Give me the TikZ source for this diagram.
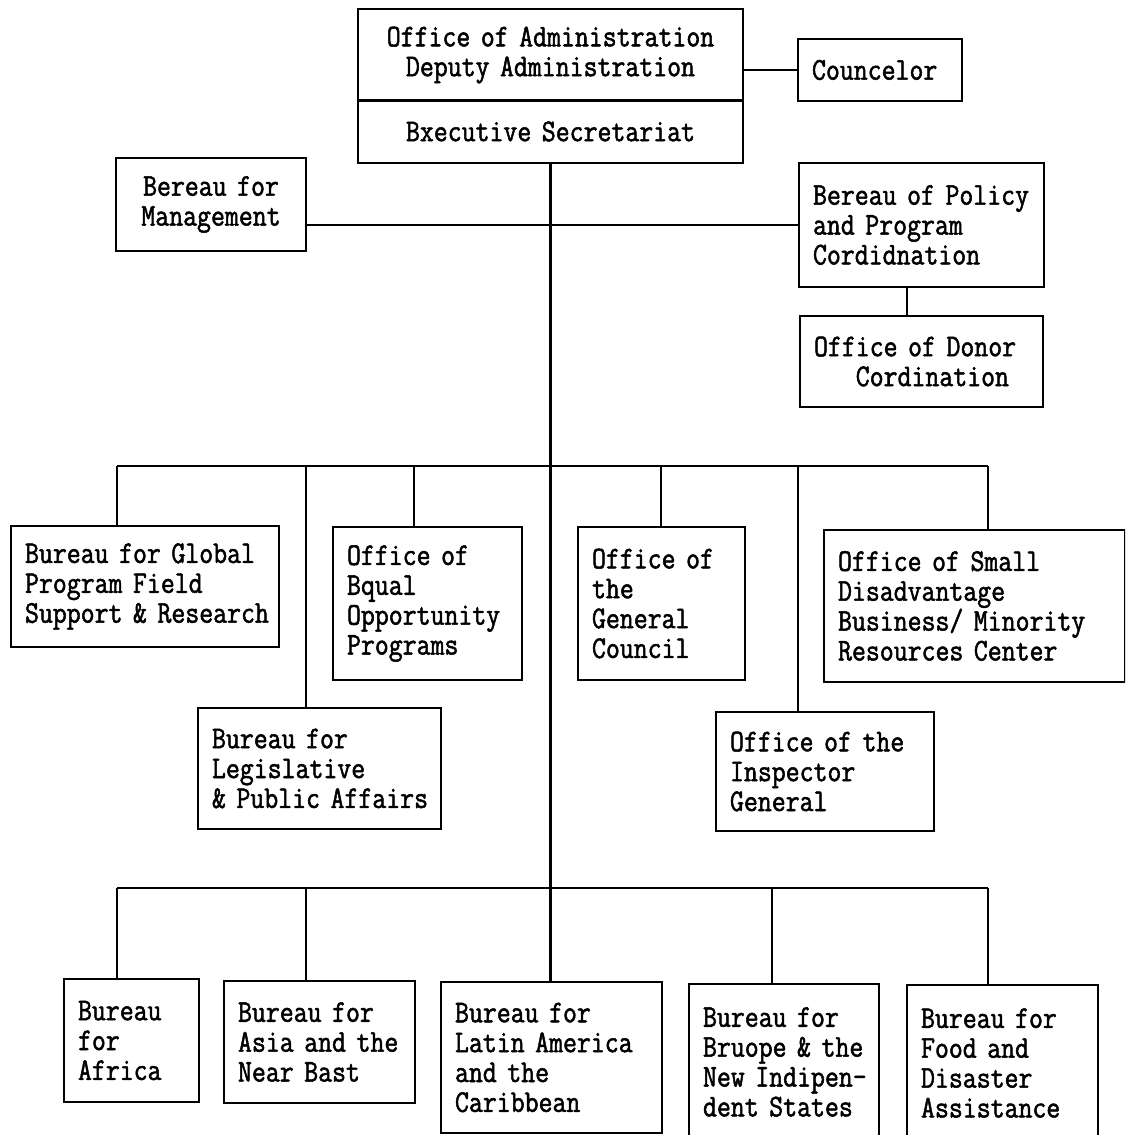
\documentclass[tikz,border=0pt]{standalone}
\usepackage{fontspec}
\newfontfamily\orgfont[FakeStretch=0.855,FakeBold=1.6]{Latin Modern Mono}
\begin{document}
\begin{tikzpicture}[x=0.02cm,y=-0.02cm,
  unitbox/.style={draw, line width=1pt, rectangle, inner xsep=0.28cm, inner ysep=0pt,
    align=left, font=\orgfont\fontsize{18}{17}\selectfont,
    execute at begin node={\hyphenpenalty=10000 \exhyphenpenalty=10000 \lefthyphenmin=64 }},
  link/.style={line width=0.9pt},
  trunk/.style={line width=1.3pt}]
\useasboundingbox (0,0) rectangle (1125,1135);
\clip (0,0) rectangle (1125,1135);

% head office
\node[unitbox, align=center, text width=7.14cm, minimum height=1.84cm] (admin) at (550.5,55)
  {Office~of~Administration\\Deputy~Administration};
\node[unitbox, align=center, text width=7.14cm, minimum height=1.26cm] (execsec) at (550.5,131.5)
  {Bxecutive~Secretariat};
\node[unitbox, text width=2.72cm, minimum height=1.24cm] (councelor) at (880,70) {Councelor};

% staff bureaus
\node[unitbox, align=center, text width=3.24cm, minimum height=1.86cm] (management) at (211,204.5)
  {Bereau~for\\Management};
\node[unitbox, text width=4.34cm, minimum height=2.48cm] (policy) at (921.5,225)
  {Bereau~of~Policy\\and~Program\\Cordidnation};
\node[unitbox, text width=4.30cm, minimum height=1.82cm] (donor) at (921.5,361.5)
  {Office~of~Donor\\\phantom{xxx}Cordination};

% offices
\node[unitbox, text width=4.80cm, minimum height=2.42cm] (global) at (145,586.5)
  {Bureau~for~Global\\Program~Field\\Support~\&~Research};
\node[unitbox, text width=3.22cm, minimum height=3.06cm] (equal) at (427.5,603.5)
  {Office~of\\Bqual\\Opportunity\\Programs};
\node[unitbox, text width=2.78cm, minimum height=3.06cm] (general) at (661.5,603.5)
  {Office~of\\the\\General\\Council};
\node[unitbox, text width=5.46cm, minimum height=3.04cm] (small) at (974.5,606)
  {Office~of~Small\\Disadvantage\\Business/~Minority\\Resources~Center};
\node[unitbox, text width=4.30cm, minimum height=2.42cm] (legis) at (319.5,768.5)
  {Bureau~for\\Legislative\\\&~Public~Affairs};
\node[unitbox, text width=3.80cm, minimum height=2.38cm] (inspector) at (825,771.5)
  {Office~of~the\\Inspector\\General};

% regional bureaus
\node[unitbox, text width=2.14cm, minimum height=2.46cm] (africa) at (131.5,1040.5)
  {Bureau\\for\\Africa};
\node[unitbox, text width=3.26cm, minimum height=2.44cm] (asia) at (319.5,1042)
  {Bureau~for\\Asia~and~the\\Near~Bast};
\node[unitbox, text width=3.86cm, minimum height=3.02cm] (latin) at (551.5,1057.5)
  {Bureau~for\\Latin~America\\and~the\\Caribbean};
\node[unitbox, text width=3.24cm, minimum height=3.12cm] (europe) at (784,1062)
  {Bureau~for\\Bruope~\&~the\\New~Indipen-\\dent~States};
\node[unitbox, text width=3.26cm, minimum height=3.12cm] (food) at (1002.5,1063)
  {Bureau~for\\Food~and\\Disaster\\Assistance};

% junction points of the two distribution lines
\coordinate (ua) at (117,466);
\coordinate (ub) at (306,466);
\coordinate (uc) at (414,466);
\coordinate (ud) at (661,466);
\coordinate (ue) at (798,466);
\coordinate (uf) at (988,466);
\coordinate (la) at (117,888);
\coordinate (lb) at (306,888);
\coordinate (lc) at (772,888);
\coordinate (ld) at (988,888);
\coordinate (pd) at (907,290);

% main line
\draw[trunk] (execsec.south) -- (execsec.south |- latin.north);
\draw[link] (councelor.west -| admin.east) -- (councelor.west);
\draw[link] (management.east |- policy.west) -- (policy.west);
\draw[link] (pd |- policy.south) -- (pd |- donor.north);

% upper distribution line
\draw[link] (ua) -- (uf);
\draw[link] (ua) -- (ua |- global.north);
\draw[link] (ub) -- (ub |- legis.north);
\draw[link] (uc) -- (uc |- equal.north);
\draw[link] (ud) -- (ud |- general.north);
\draw[link] (ue) -- (ue |- inspector.north);
\draw[link] (uf) -- (uf |- small.north);

% lower distribution line
\draw[link] (la) -- (ld);
\draw[link] (la) -- (la |- africa.north);
\draw[link] (lb) -- (lb |- asia.north);
\draw[link] (lc) -- (lc |- europe.north);
\draw[link] (ld) -- (ld |- food.north);
\end{tikzpicture}
\end{document}
